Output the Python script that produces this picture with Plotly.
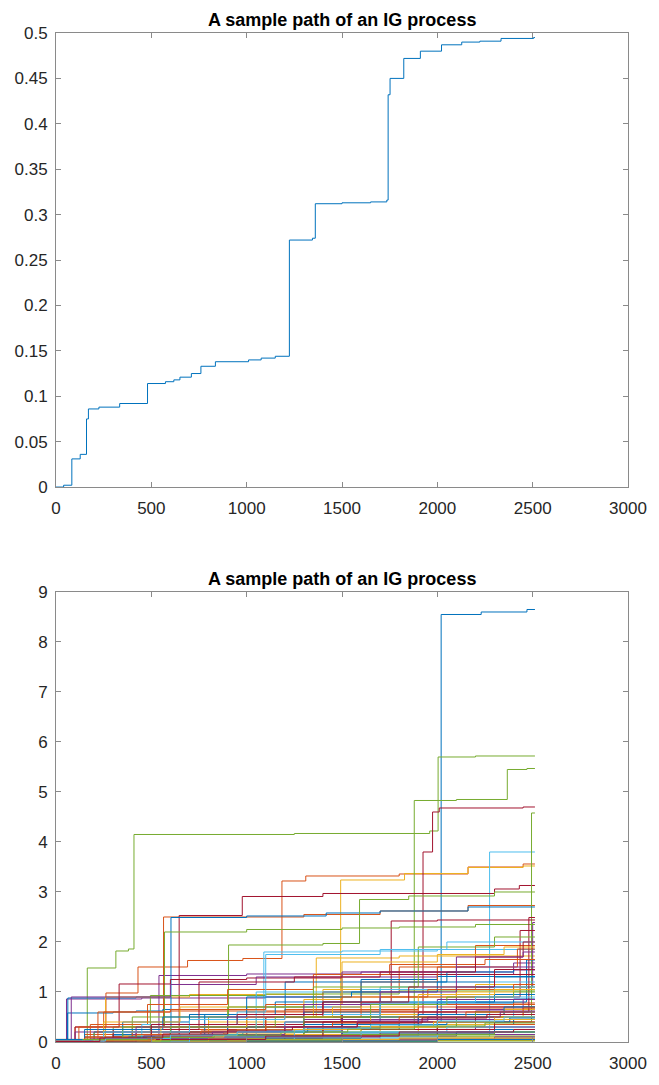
import plotly.graph_objects as go
from plotly.subplots import make_subplots

# ---- data -------------------------------------------------------------
t_end = 2512

# single IG path (jump times and levels)
top_x = [0, 40, 83, 127, 160, 170, 225, 334, 480, 574, 618, 650, 710, 760,
         836, 1010, 1076, 1150, 1224, 1345, 1360, 1500, 1650, 1735, 1742,
         1752, 1824, 1911, 2022, 2128, 2223, 2334, 2505]
top_y = [0, 0.002, 0.031, 0.036, 0.075, 0.086, 0.088, 0.092, 0.114, 0.116,
         0.118, 0.121, 0.125, 0.133, 0.138, 0.140, 0.142, 0.144, 0.272, 0.274,
         0.312, 0.313, 0.314, 0.316, 0.432, 0.450, 0.472, 0.480, 0.487, 0.490,
         0.491, 0.494, 0.495]

top_xticks = [0, 500, 1000, 1500, 2000, 2500, 3000]
top_yticks = [0, 0.05, 0.1, 0.15, 0.2, 0.25, 0.3, 0.35, 0.4, 0.45, 0.5]
top_yticklabels = ["0", "0.05", "0.1", "0.15", "0.2", "0.25", "0.3", "0.35",
                   "0.4", "0.45", "0.5"]
bottom_yticks = [0, 1, 2, 3, 4, 5, 6, 7, 8, 9]

# many IG paths: (jump times, levels), drawn in colour-order sequence
bottom_paths = [
    ([0, 300, 900, 1500, 1800, 2020, 2230, 2470], [0.02, 0.12, 0.22, 0.3, 0.4, 8.55, 8.6, 8.65]),
    ([0, 100, 262, 430, 690, 980, 1185, 1310, 1800, 2161, 2450], [0.05, 0.3, 0.98, 1.5, 1.63, 1.67, 3.22, 3.32, 3.36, 3.5, 3.56]),
    ([0, 300, 800, 1493, 1828, 2161, 2450], [0.02, 0.1, 0.4, 3.24, 3.37, 3.49, 3.52]),
    ([0, 55, 450, 1100, 1500, 2000, 2400], [0.02, 0.86, 0.88, 0.9, 1.3, 1.35, 1.44]),
    ([0, 164, 314, 380, 409, 1250, 1960, 2004, 2200], [0, 1.48, 1.82, 1.86, 4.15, 4.17, 4.22, 5.7, 5.72]),
    ([0, 900, 1700, 2274], [0, 0.05, 0.1, 3.8]),
    ([0, 420, 900, 1500, 1925, 1975, 2010, 2450], [0.03, 0.2, 0.35, 0.55, 3.8, 4.6, 4.68, 4.7]),

    ([0, 62, 420, 600, 1100, 1400, 1700, 2200], [0.02, 0.88, 0.9, 0.93, 0.95, 1.0, 1.05, 1.1]),
    ([0, 150, 400, 564, 1300, 1700, 2161], [0.02, 0.15, 0.3, 2.5, 2.55, 2.62, 2.73]),
    ([0, 260, 700, 1400, 2200], [0.05, 0.9, 0.95, 1.05, 1.15]),
    ([0, 540, 1000, 1600, 2400], [0.05, 1.33, 1.36, 1.4, 1.58]),
    ([0, 600, 1300, 1879, 2100, 2367, 2470], [0.02, 0.12, 0.3, 4.83, 4.85, 5.45, 5.47]),
    ([0, 500, 1090, 1500, 2000], [0.02, 0.3, 1.8, 1.82, 1.85]),
    ([0, 300, 646, 977, 1400, 2300, 2430], [0.03, 0.15, 2.53, 2.91, 2.97, 3.06, 3.13]),

    ([0, 60, 300, 420, 560, 1000, 1600, 2400], [0.01, 0.58, 0.6, 0.62, 0.65, 0.7, 0.78, 0.86]),
    ([0, 500, 1000, 1400, 1800, 2200], [0.02, 0.25, 0.6, 1.0, 1.5, 1.93]),
    ([0, 500, 1050, 1365, 1800], [0, 0.2, 0.5, 1.68, 1.72]),
    ([0, 600, 1200, 1700, 2100, 2500], [0.02, 0.2, 0.4, 0.6, 1.1, 2.39]),
    ([0, 800, 1600, 2200, 2494], [0.01, 0.1, 0.25, 0.4, 4.58]),
    ([0, 700, 1300, 2000, 2400], [0.01, 0.1, 0.25, 0.5, 0.7]),
    ([0, 400, 1000, 1400, 1758, 2000], [0.02, 0.15, 0.5, 0.8, 2.42, 2.44]),

    ([0, 200, 603, 1000, 1417, 1700, 2161], [0.05, 0.2, 2.49, 2.52, 2.58, 2.62, 2.7]),
    ([0, 250, 600, 1200, 1900, 2400], [0.05, 0.6, 0.62, 0.65, 0.7, 0.78]),
    ([0, 600, 1200, 1900, 2450], [0, 0.05, 0.2, 0.5, 0.7]),
    ([0, 300, 900, 1500, 2000], [0, 0.05, 0.2, 0.5, 0.85]),
    ([0, 300, 569, 1000, 1500, 1800, 2200], [0.05, 0.3, 2.2, 2.25, 2.28, 2.3, 2.35]),
    ([0, 200, 1000, 1900], [0, 0.05, 0.12, 0.2]),
    ([0, 500, 1100, 1700, 2434], [0.02, 0.2, 0.5, 0.9, 2.23]),

    ([0, 500, 1000, 1500, 2000, 2468], [0.02, 0.1, 0.3, 0.5, 0.8, 1.64]),
    ([0, 300, 700, 1300, 2100], [0.02, 0.1, 0.55, 0.6, 0.66]),
    ([0, 300, 900, 1500, 2000], [0.01, 0.06, 0.12, 0.25, 0.4]),
    ([0, 500, 1000, 1500, 2200], [0.01, 0.1, 0.3, 0.55, 0.62]),
    ([0, 400, 905, 1400, 1592, 1850, 2300], [0.02, 0.5, 1.94, 1.97, 2.85, 2.92, 3.0]),
    ([0, 400, 1200, 1700, 2300], [0.02, 0.2, 0.4, 1.1, 1.2]),
    ([0, 100, 331, 600, 1000, 1500], [0.05, 0.3, 1.16, 1.25, 1.28, 1.35]),

    ([0, 300, 780, 1202, 1600, 2000], [0.05, 0.15, 0.55, 1.2, 1.25, 1.31]),
    ([0, 400, 900, 1500, 2000, 2450], [0.01, 0.05, 0.15, 0.3, 0.55, 0.6]),
    ([0, 700, 1300, 2000], [0, 0.03, 0.06, 0.1]),
    ([0, 250, 700, 1400, 2100], [0, 0.03, 0.08, 0.12, 0.2]),
    ([0, 200, 495, 1100, 1800], [0.01, 0.2, 0.93, 0.96, 1.02]),
    ([0, 600, 1500, 2300], [0, 0.02, 0.06, 0.08]),
    ([0, 300, 900, 1500, 2100], [0, 0.1, 0.3, 0.55, 0.7]),

    ([0, 400, 900, 1300, 1700, 2300], [0.01, 0.1, 0.3, 0.6, 0.8, 0.95]),
    ([0, 200, 800, 1400, 2000], [0, 0.03, 0.08, 0.15, 0.25]),
    ([0, 150, 800, 1350, 2100, 2400], [0.02, 0.1, 0.5, 0.9, 1.0, 1.1]),
    ([0, 800, 1800], [0, 0.03, 0.05]),
    ([0, 500, 1200, 2000, 2400], [0, 0.05, 0.2, 0.35, 0.45]),
    ([0, 300, 800, 1500, 2100], [0, 0.08, 0.15, 0.3, 0.35]),
    ([0, 500, 1200, 2000], [0.01, 0.05, 0.15, 0.3]),

    ([0, 200, 700, 1200, 1800, 2400], [0, 0.05, 0.15, 0.25, 0.35, 0.45]),
    ([0, 550, 1300, 2300], [0.03, 0.1, 0.4, 0.5]),
    ([0, 450, 1100, 1700, 2300], [0, 0.08, 0.15, 0.35, 0.45]),
    ([0, 400, 1200, 1900], [0.02, 0.15, 0.3, 0.45]),
    ([0, 300, 900, 1600], [0, 0.03, 0.08, 0.12]),
    ([0, 1100, 2000], [0, 0.1, 0.15]),
    ([0, 150, 700, 1400, 2200], [0, 0.1, 0.2, 0.4, 0.5]),

    ([0, 500, 1100, 1600, 2100], [0, 0.03, 0.08, 0.15, 0.2]),
    ([0, 350, 1000, 1700, 2300], [0, 0.05, 0.12, 0.18, 0.35]),
    ([0, 1000, 2000], [0, 0.02, 0.03]),
    ([0, 100, 700, 1300, 2000, 2450], [0, 0.2, 0.3, 0.45, 0.65, 0.85]),
    ([0, 700, 1400, 2100], [0.02, 0.12, 0.3, 0.5]),
    ([0, 500, 1050, 1600, 2300], [0.05, 0.1, 1.0, 1.05, 1.1]),
    ([0, 1000, 2000], [0, 0.02, 0.05]),

    ([0, 250, 800, 1500, 2300], [0.03, 0.08, 0.12, 0.18, 0.25]),
    ([0, 120, 700, 1200, 1900], [0.02, 0.3, 0.45, 0.62, 0.75]),
    ([0, 350, 950, 1650, 2350], [0.03, 0.12, 0.25, 0.55, 0.65]),
    ([0, 1200, 2300], [0, 0.05, 0.1]),
    ([0, 1000, 2000], [0, 0.01, 0.02]),
    ([0, 900, 1800], [0, 0.03, 0.06]),
    ([0, 600, 1300, 1900, 2480], [0, 0.2, 0.4, 0.6, 2.49]),

    ([0, 600, 1300, 1900, 2350], [0, 0.2, 0.35, 0.55, 0.7]),
    ([0, 900, 1800], [0, 0.02, 0.06]),
    ([0, 800, 1600, 2300], [0.01, 0.1, 0.3, 0.5]),
    ([0, 600, 1500, 2200], [0, 0.1, 0.25, 0.3]),
    ([0, 400, 1300, 2200], [0, 0.1, 0.5, 0.6]),
    ([0, 350, 1250, 2050], [0.01, 0.05, 0.2, 0.3]),
    ([0, 700, 1400, 2300], [0.01, 0.1, 0.25, 0.4]),

    ([0, 1000, 2000], [0, 0.02, 0.05]),
    ([0, 400, 1100, 1600, 2000, 2420], [0.05, 0.2, 0.5, 1.2, 1.5, 1.86]),
    ([0, 200, 1000, 1800], [0, 0.02, 0.05, 0.08]),
    ([0, 300, 1000, 1700], [0.03, 0.08, 0.1, 0.15]),
    ([0, 600, 1500, 2300], [0.01, 0.04, 0.15, 0.2]),
    ([0, 700, 1600, 2400], [0, 0.1, 0.2, 0.25]),
    ([0, 400, 1100, 1800, 2400], [0, 0.05, 0.12, 0.2, 0.25]),

    ([0, 350, 700, 1150, 1600, 2050, 2400], [0.03, 0.4, 0.55, 0.8, 1.2, 1.4, 1.45]),
    ([0, 180, 480, 900, 1350, 1750, 2250], [0.05, 0.35, 0.75, 1.05, 1.35, 1.55, 1.65]),
    ([0, 250, 650, 1300, 1500, 2000, 2350], [0.02, 0.4, 0.7, 0.85, 1.6, 1.75, 1.9]),
    ([0, 80, 600, 1050, 1500, 2100], [0.02, 0.9, 1.15, 1.3, 1.4, 1.5]),
    ([0, 350, 900, 1350, 1900, 2300], [0.05, 0.3, 0.7, 1.1, 1.9, 2.1]),
    ([0, 450, 950, 1100, 1700, 2050], [0.02, 0.35, 0.6, 1.75, 1.85, 2.0]),
    ([0, 300, 750, 1250, 1700, 2200, 2450], [0.02, 0.25, 1.2, 1.3, 1.4, 1.7, 2.0]),

    ([0, 150, 560, 1000, 1550, 2000, 2300], [0.05, 0.25, 0.5, 0.9, 1.0, 1.2, 1.3]),
    ([0, 220, 600, 1100, 1500, 1950, 2400], [0.03, 0.6, 0.65, 0.75, 0.9, 1.05, 1.15]),
    ([0, 550, 1000, 1450, 1900, 2300], [0.02, 0.3, 0.5, 0.7, 0.95, 1.05]),
    ([0, 420, 900, 1300, 1700, 2100, 2450], [0, 0.3, 0.5, 0.75, 1.0, 1.7, 1.8]),
    ([0, 600, 1150, 1650, 2050, 2400], [0.02, 0.3, 0.5, 0.75, 0.9, 1.0]),
    ([0, 250, 700, 1200, 1700, 2200], [0, 0.2, 0.45, 0.55, 0.8, 0.9]),
    ([0, 500, 950, 1400, 1850, 2300], [0.02, 0.35, 0.55, 0.8, 1.1, 1.45]),

    ([0, 120, 380, 650, 980, 1320, 1700, 2050, 2380], [0.01, 0.05, 0.1, 0.15, 0.2, 0.28, 0.35, 0.4, 0.48]),
    ([0, 150, 420, 760, 1100, 1450, 1800, 2150, 2450], [0.02, 0.08, 0.15, 0.22, 0.3, 0.38, 0.5, 0.6, 0.68]),
    ([0, 200, 520, 880, 1250, 1600, 1980, 2300], [0, 0.04, 0.1, 0.18, 0.25, 0.3, 0.4, 0.45]),
    ([0, 180, 460, 820, 1200, 1580, 1950, 2330], [0.01, 0.06, 0.12, 0.2, 0.3, 0.42, 0.5, 0.6]),
    ([0, 140, 480, 830, 1180, 1530, 1880, 2250], [0, 0.05, 0.09, 0.14, 0.2, 0.26, 0.32, 0.38]),
    ([0, 260, 600, 950, 1300, 1650, 2000, 2350], [0.02, 0.07, 0.14, 0.2, 0.28, 0.34, 0.42, 0.5]),
    ([0, 230, 560, 900, 1240, 1580, 1920, 2260], [0.01, 0.08, 0.16, 0.24, 0.3, 0.38, 0.48, 0.55]),
]

# MATLAB default line colour order
color_order = ["#0072BD", "#D95319", "#EDB120", "#7E2F8E",
               "#77AC30", "#4DBEEE", "#A2142F"]

title_text = "A sample path of an IG process"

# ---- figure -----------------------------------------------------------
fig = make_subplots(rows=2, cols=1, vertical_spacing=0.104,
                    row_heights=[0.55, 0.45])

fig.add_trace(go.Scatter(x=top_x + [t_end], y=top_y + [top_y[-1]],
                         mode="lines", line=dict(color=color_order[0], width=1,
                                                 shape="hv"),
                         showlegend=False, hoverinfo="skip"), row=1, col=1)

for i, (px, py) in enumerate(bottom_paths):
    fig.add_trace(go.Scatter(x=px + [t_end], y=py + [py[-1]], mode="lines",
                             line=dict(color=color_order[i % len(color_order)],
                                       width=1, shape="hv"),
                             showlegend=False, hoverinfo="skip"),
                  row=2, col=1)

axis_line = "#8a8a8a"
tick_font = dict(family="Liberation Sans, Arial, sans-serif", size=17,
                 color="#262626")
common = dict(showline=True, linecolor=axis_line, linewidth=1, mirror="ticks",
              ticks="inside", ticklen=5, tickcolor=axis_line, tickwidth=1,
              showgrid=False, zeroline=False, tickfont=tick_font)

fig.update_xaxes(range=[0, 3000], tickvals=top_xticks,
                 ticktext=[str(v) for v in top_xticks],
                 ticklabelstandoff=6, **common)
fig.update_yaxes(range=[0, 0.5], tickvals=top_yticks, ticktext=top_yticklabels,
                 ticklabelstandoff=4, row=1, col=1, **common)
fig.update_yaxes(range=[0, 9], tickvals=bottom_yticks,
                 ticktext=[str(v) for v in bottom_yticks],
                 ticklabelstandoff=4, row=2, col=1, **common)

fig.update_layout(
    width=659, height=1085,
    margin=dict(l=56, r=23, t=33, b=32),
    paper_bgcolor="white", plot_bgcolor="white",
)
fig.update_yaxes(domain=[0.55, 1.0], row=1, col=1)
fig.update_yaxes(domain=[0.0, 0.446], row=2, col=1)

for xr, yr in (("x domain", "y domain"), ("x2 domain", "y2 domain")):
    fig.add_annotation(text="<b>" + title_text + "</b>", xref=xr, yref=yr,
                       x=0.5, y=1.0, xanchor="center", yanchor="bottom",
                       yshift=1, showarrow=False,
                       font=dict(family="Liberation Sans, Arial, sans-serif",
                                 size=18, color="#000000"))

fig.write_html("out.html")
